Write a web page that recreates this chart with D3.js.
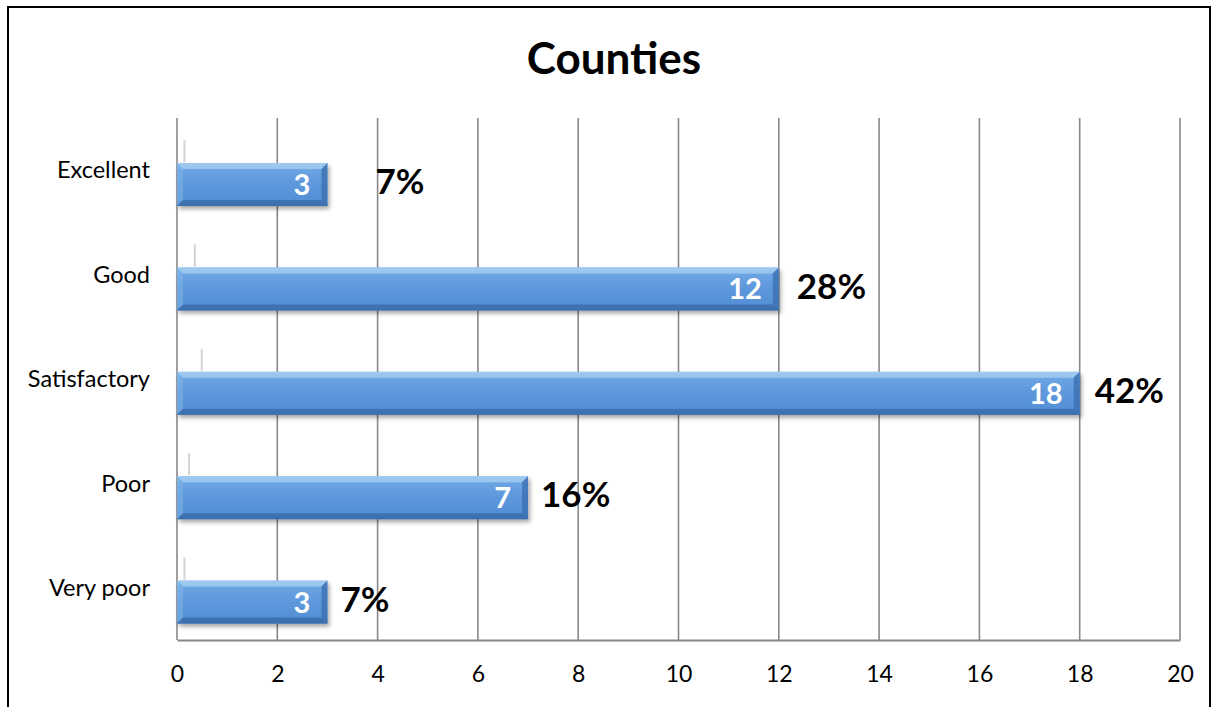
<!DOCTYPE html>
<html>
<head>
<meta charset="utf-8">
<script src="https://cdn.jsdelivr.net/npm/d3@7"></script>
<style>
  body { margin: 0; background: #fff; }
  svg text { font-family: Lato, "Open Sans", sans-serif; }
</style>
</head>
<body>
<div id="chart"></div>
<script>
// Counties rating breakdown, horizontal 3D-style bars
const categories = ["Excellent", "Good", "Satisfactory", "Poor", "Very poor"];
const counts = [3, 12, 18, 7, 3];
const percents = ["7%", "28%", "42%", "16%", "7%"];
const xTicks = [0, 2, 4, 6, 8, 10, 12, 14, 16, 18, 20];

(() => {
    const W = 1217, H = 707;
    const m = { top: 118, right: 37, bottom: 67, left: 177 };
    const w = W - m.left - m.right;
    const h = H - m.top - m.bottom;

    const svg = d3.select("#chart").append("svg").attr("width", W).attr("height", H);

    const defs = svg.append("defs");
    const grad = defs.append("linearGradient").attr("id", "barFill").attr("x1", 0).attr("y1", 0).attr("x2", 0).attr("y2", 1);
    grad.append("stop").attr("offset", "0%").attr("stop-color", "#8cbcec");
    grad.append("stop").attr("offset", "18%").attr("stop-color", "#6aa3e2");
    grad.append("stop").attr("offset", "50%").attr("stop-color", "#5d98dc");
    grad.append("stop").attr("offset", "85%").attr("stop-color", "#5690d6");
    grad.append("stop").attr("offset", "100%").attr("stop-color", "#3f75b8");
    const shadow = defs.append("filter").attr("id", "shadow").attr("x", "-5%").attr("y", "-20%").attr("width", "115%").attr("height", "160%");
    shadow.append("feDropShadow").attr("dx", 2).attr("dy", 3).attr("stdDeviation", 2).attr("flood-color", "#000").attr("flood-opacity", 0.35);

    // outer frame
    svg.append("path")
        .attr("d", `M8,${H + 2} L8,7 L1210,7 L1210,${H + 2}`)
        .attr("fill", "none").attr("stroke", "#000").attr("stroke-width", 2);

    svg.append("text")
        .attr("x", 614).attr("y", 74)
        .attr("text-anchor", "middle")
        .attr("font-size", 44).attr("font-weight", "bold")
        .text("Counties");

    const g = svg.append("g").attr("transform", `translate(${m.left},${m.top})`);

    const x = d3.scaleLinear().domain([0, 20]).range([0, w]);
    const y = d3.scaleBand().domain(categories).range([0, h]);

    // vertical gridlines
    g.selectAll("line.grid")
        .data(xTicks)
        .join("line")
        .attr("class", "grid")
        .attr("x1", d => x(d)).attr("x2", d => x(d))
        .attr("y1", 0).attr("y2", h)
        .attr("stroke", "#888").attr("stroke-width", 1.6);

    // bottom axis
    const xAxis = g.append("g")
        .attr("transform", `translate(0,${h})`)
        .call(d3.axisBottom(x).tickValues(xTicks).tickSize(0).tickPadding(26));
    xAxis.select(".domain").attr("stroke", "#888").attr("stroke-width", 2);
    xAxis.selectAll("text").attr("font-size", 23).attr("fill", "#000")
        .style("font-family", "Lato, 'Open Sans', sans-serif");

    // category labels
    g.selectAll("text.cat")
        .data(categories)
        .join("text")
        .attr("class", "cat")
        .attr("x", -27)
        .attr("y", d => y(d) + y.bandwidth() / 2)
        .attr("dy", "0.35em")
        .attr("text-anchor", "end")
        .attr("font-size", 23.5)
        .text(d => d);

    // faint depth marks behind each bar
    g.selectAll("line.depth")
        .data(categories)
        .join("line")
        .attr("class", "depth")
        .attr("x1", (d, i) => x(counts[i]) * 0.023 + 4)
        .attr("x2", (d, i) => x(counts[i]) * 0.023 + 4)
        .attr("y1", d => y(d) + 22)
        .attr("y2", d => y(d) + 44)
        .attr("stroke", "#d4d4d4").attr("stroke-width", 2);

    const barH = 43, barOff = 45;
    const bars = g.selectAll("g.bar")
        .data(categories)
        .join("g")
        .attr("class", "bar")
        .attr("transform", d => `translate(0,${y(d) + barOff})`);

    bars.append("rect")
        .attr("x", 0).attr("y", 0)
        .attr("width", (d, i) => x(counts[i]))
        .attr("height", barH)
        .attr("fill", "url(#barFill)")
        .attr("filter", "url(#shadow)");

    // bevel: light top edge, darker right and bottom edges
    const bev = 6;
    bars.append("path")
        .attr("d", (d, i) => {
            const bw = x(counts[i]);
            return `M0,0 L${bw},0 L${bw - bev},${bev} L${bev},${bev} Z`;
        })
        .attr("fill", "#a6cdf2").attr("opacity", 0.75);
    bars.append("path")
        .attr("d", (d, i) => {
            const bw = x(counts[i]);
            return `M${bw},0 L${bw},${barH} L${bw - bev},${barH - bev} L${bw - bev},${bev} Z`;
        })
        .attr("fill", "#3c70b0").attr("opacity", 0.8);
    bars.append("path")
        .attr("d", (d, i) => {
            const bw = x(counts[i]);
            return `M0,${barH} L${bw},${barH} L${bw - bev},${barH - bev} L${bev},${barH - bev} Z`;
        })
        .attr("fill", "#3a6dab").attr("opacity", 0.8);
    bars.append("path")
        .attr("d", `M0,0 L${bev},${bev} L${bev},${barH - bev} L0,${barH} Z`)
        .attr("fill", "#7db2e8").attr("opacity", 0.6);

    // value inside bar
    bars.append("text")
        .attr("x", (d, i) => x(counts[i]) - 17)
        .attr("y", barH / 2)
        .attr("dy", "0.36em")
        .attr("text-anchor", "end")
        .attr("font-size", 29).attr("font-weight", "bold")
        .attr("fill", "#fff")
        .text((d, i) => counts[i]);

    // percentage beside bar
    const pctGap = [48, 18, 15, 13, 13];
    bars.append("text")
        .attr("x", (d, i) => x(counts[i]) + pctGap[i])
        .attr("y", barH / 2 - 3)
        .attr("dy", "0.36em")
        .attr("font-size", 35).attr("font-weight", "bold")
        .attr("fill", "#000")
        .text((d, i) => percents[i]);
})();
</script>
</body>
</html>
